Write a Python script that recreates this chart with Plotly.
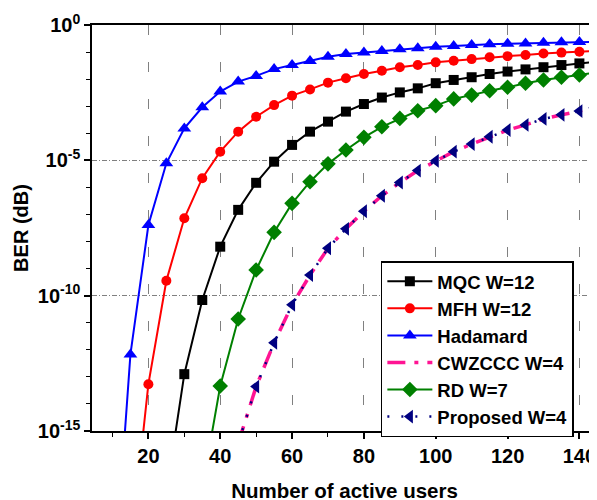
import plotly.graph_objects as go

# Number of active users (x) and log10(BER)
users_hadamard = [10, 15, 20, 25, 30, 35, 40, 45, 50, 55, 60, 65, 70, 75, 80, 85, 90, 95, 100, 105, 110, 115, 120, 125, 130, 135, 140, 145]
logber_hadamard = [-21.5, -12.17, -7.39, -5.11, -3.82, -3.04, -2.46, -2.09, -1.88, -1.63, -1.48, -1.33, -1.17, -1.07, -1.02, -0.96, -0.90, -0.86, -0.80, -0.78, -0.74, -0.71, -0.69, -0.68, -0.66, -0.64, -0.63, -0.62]

users_mfh = [15, 20, 25, 30, 35, 40, 45, 50, 55, 60, 65, 70, 75, 80, 85, 90, 95, 100, 105, 110, 115, 120, 125, 130, 135, 140, 145]
logber_mfh = [-19.45, -13.27, -9.45, -7.14, -5.66, -4.68, -3.94, -3.39, -2.96, -2.61, -2.38, -2.13, -1.97, -1.81, -1.69, -1.56, -1.48, -1.38, -1.32, -1.26, -1.19, -1.15, -1.11, -1.05, -1.02, -0.99, -0.96]

users_mqc = [25, 30, 35, 40, 45, 50, 55, 60, 65, 70, 75, 80, 85, 90, 95, 100, 105, 110, 115, 120, 125, 130, 135, 140, 145]
logber_mqc = [-17.3, -12.90, -10.16, -8.19, -6.83, -5.83, -5.05, -4.43, -3.94, -3.57, -3.20, -2.92, -2.68, -2.49, -2.34, -2.15, -2.03, -1.93, -1.81, -1.72, -1.64, -1.56, -1.48, -1.42, -1.35]

users_rd = [35, 40, 45, 50, 55, 60, 65, 70, 75, 80, 85, 90, 95, 100, 105, 110, 115, 120, 125, 130, 135, 140, 145]
logber_rd = [-17.1, -13.34, -10.86, -9.05, -7.66, -6.59, -5.79, -5.13, -4.62, -4.15, -3.76, -3.45, -3.17, -2.98, -2.73, -2.59, -2.43, -2.30, -2.15, -2.03, -1.93, -1.85, -1.75]

users_cwzccc = [45, 50, 55, 60, 65, 70, 75, 80, 85, 90, 95, 100, 105, 110, 115, 120, 125, 130, 135, 140, 145]
logber_cwzccc = [-15.46, -13.36, -11.74, -10.34, -9.24, -8.25, -7.53, -6.88, -6.31, -5.82, -5.38, -5.02, -4.68, -4.40, -4.13, -3.88, -3.69, -3.47, -3.32, -3.18, -2.99]

users_proposed = [45, 50, 55, 60, 65, 70, 75, 80, 85, 90, 95, 100, 105, 110, 115, 120, 125, 130, 135, 140, 145]
logber_proposed = [-15.46, -13.36, -11.74, -10.34, -9.24, -8.25, -7.53, -6.88, -6.31, -5.82, -5.38, -5.02, -4.68, -4.40, -4.13, -3.88, -3.69, -3.47, -3.32, -3.18, -2.99]

x_major_ticks = [20, 40, 60, 80, 100, 120, 140]
x_minor_ticks = [10, 30, 50, 70, 90, 110, 130]
y_major_exp = [0, -5, -10, -15]
y_minor_exp = [-1, -2, -3, -4, -6, -7, -8, -9, -11, -12, -13, -14]

FONT = "Liberation Sans, Arial, sans-serif"


def ber(vals):
    return [10 ** v for v in vals]


fig = go.Figure()

fig.add_trace(go.Scatter(x=users_mqc, y=ber(logber_mqc), name="MQC W=12", mode="lines+markers",
                         line=dict(color="black", width=2), marker=dict(symbol="square", size=10, color="black")))
fig.add_trace(go.Scatter(x=users_mfh, y=ber(logber_mfh), name="MFH W=12", mode="lines+markers",
                         line=dict(color="#FF0000", width=2), marker=dict(symbol="circle", size=10, color="#FF0000")))
fig.add_trace(go.Scatter(x=users_hadamard, y=ber(logber_hadamard), name="Hadamard", mode="lines+markers",
                         line=dict(color="#0000FF", width=2), marker=dict(symbol="triangle-up", size=12, color="#0000FF")))
fig.add_trace(go.Scatter(x=users_cwzccc, y=ber(logber_cwzccc), name="CWZCCC W=4", mode="lines",
                         line=dict(color="#FF1493", width=3.5, dash="18px,9px,4px,9px")))
fig.add_trace(go.Scatter(x=users_rd, y=ber(logber_rd), name="RD W=7", mode="lines+markers",
                         line=dict(color="#008000", width=2), marker=dict(symbol="diamond", size=12, color="#008000")))
fig.add_trace(go.Scatter(x=users_proposed, y=ber(logber_proposed), name="Proposed W=4", mode="lines+markers",
                         line=dict(color="#000080", width=2.5, dash="2px,12px"),
                         marker=dict(symbol="triangle-left", size=12, color="#000080")))

fig.update_layout(
    width=597, height=500,
    margin=dict(l=84, r=8, t=17, b=77, autoexpand=False),
    plot_bgcolor="white", paper_bgcolor="white",
    font=dict(family=FONT, color="black", size=20, weight="bold"),
    showlegend=True,
    legend=dict(x=0.572, y=0.418, xanchor="left", yanchor="top",
                bgcolor="white", bordercolor="black", borderwidth=1.5,
                font=dict(family=FONT, size=18.5, color="black", weight="bold"),
                itemwidth=45, tracegroupgap=0),
)

fig.update_xaxes(
    range=[4.3, 144.9], automargin=False,
    tickmode="array", tickvals=x_major_ticks,
    ticks="outside", ticklen=6, tickwidth=1.5, tickcolor="black",
    showline=True, linecolor="black", linewidth=1.5, mirror=True,
    showgrid=True, gridcolor="#808080", gridwidth=1.2, griddash="10px,27px",
    zeroline=False,
    tickfont=dict(family=FONT, size=20, weight="bold"),
    minor=dict(tickvals=x_minor_ticks, ticks="outside", ticklen=4, tickwidth=1.2, tickcolor="black", showgrid=False),
    title=dict(text="Number of active users", font=dict(family=FONT, size=20.5, weight="bold"), standoff=18),
)

fig.update_yaxes(
    type="log", range=[-15, 0], automargin=False,
    tickmode="array", tickvals=[10 ** e for e in y_major_exp],
    ticktext=["10<sup>%d</sup>" % e for e in y_major_exp],
    ticks="outside", ticklen=6, tickwidth=1.5, tickcolor="black",
    showline=True, linecolor="black", linewidth=1.5,
    showgrid=True, gridcolor="#808080", gridwidth=1, griddash="5px,2px,1px,2px",
    zeroline=False,
    tickfont=dict(family=FONT, size=20, weight="bold"),
    minor=dict(tickvals=[10 ** e for e in y_minor_exp], ticks="outside", ticklen=4, tickwidth=1.2, tickcolor="black", showgrid=False),
    title=dict(text="BER (dB)", font=dict(family=FONT, size=20, weight="bold"), standoff=4),
)

fig.write_html("out.html")
